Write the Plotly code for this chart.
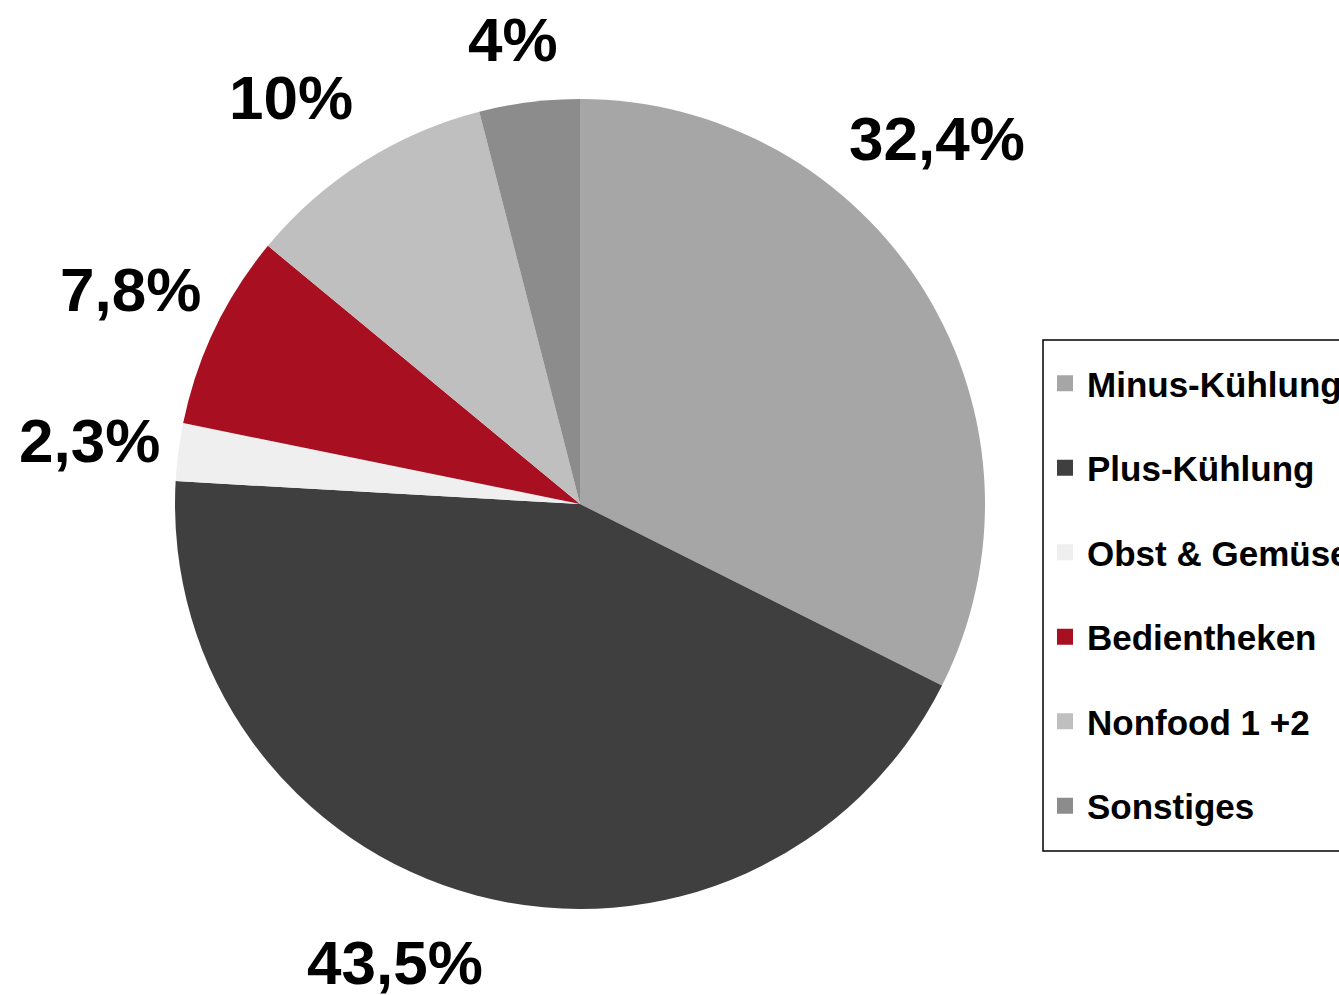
import math
import plotly.graph_objects as go

categories = ["Minus-Kühlung", "Plus-Kühlung", "Obst & Gemüse", "Bedientheken", "Nonfood 1 +2", "Sonstiges"]
values = [32.4, 43.5, 2.3, 7.8, 10.0, 4.0]
value_labels = ["32,4%", "43,5%", "2,3%", "7,8%", "10%", "4%"]
colors = ["#a6a6a6", "#3f3f3f", "#efefef", "#a80f21", "#bfbfbf", "#8c8c8c"]

W, H = 1339, 995
FONT = "Liberation Sans, Arial, sans-serif"

# pie geometry in pixels
CX, CY, R = 580, 504, 405

# label placement style: radius factor and angular nudge (degrees) per label
label_radius = [1.26, 1.22, 1.22, 1.23, 1.23, 1.16]
label_nudge = [-14, 7, 0, 0, -3, -1]

# legend box (pixels)
LEG_L, LEG_T, LEG_B = 1043, 340, 851

fig = go.Figure()
fig.add_trace(go.Pie(
    labels=categories,
    values=values,
    textinfo="none",
    sort=False,
    direction="clockwise",
    rotation=0,
    marker=dict(colors=colors, line=dict(width=0)),
    domain=dict(x=[(CX - R) / W, (CX + R) / W], y=[(H - (CY + R)) / H, (H - (CY - R)) / H]),
    showlegend=False,
    hoverinfo="label+percent",
))

# value labels outside the slices, positioned from the slice mid-angles
total = sum(values)
cum = 0.0
for i, (v, lab) in enumerate(zip(values, value_labels)):
    mid = (cum + v / 2) / total * 360 + label_nudge[i]
    cum += v
    a = math.radians(mid)
    px = CX + label_radius[i] * R * math.sin(a)
    py = CY - label_radius[i] * R * math.cos(a)
    fig.add_annotation(
        x=px / W, y=1 - py / H, xref="paper", yref="paper",
        text=lab, showarrow=False, xanchor="center", yanchor="middle",
        font=dict(family=FONT, size=62, color="black", weight="bold"),
    )

# legend entries (one per category) so that they can be spaced like the reference
for cat, col in zip(categories, colors):
    fig.add_trace(go.Scatter(
        x=[None], y=[None], mode="markers", name=cat,
        legendgroup=cat,
        marker=dict(symbol="square", size=22, color=col, line=dict(width=0)),
        showlegend=True,
    ))

# legend frame
fig.add_shape(
    type="rect", xref="paper", yref="paper",
    x0=LEG_L / W, x1=(LEG_L + 420) / W, y0=1 - LEG_B / H, y1=1 - LEG_T / H,
    line=dict(color="black", width=1.5), fillcolor="rgba(0,0,0,0)", layer="below",
)

fig.update_layout(
    width=W, height=H,
    margin=dict(l=0, r=0, t=0, b=0, autoexpand=False),
    paper_bgcolor="white", plot_bgcolor="white",
    xaxis=dict(visible=False), yaxis=dict(visible=False),
    font=dict(family=FONT, color="black"),
    legend=dict(
        x=LEG_L / W, y=1 - (LEG_T + 14) / H, xanchor="left", yanchor="top",
        borderwidth=0, bgcolor="rgba(0,0,0,0)",
        font=dict(family=FONT, size=35, color="black", weight="bold"),
        tracegroupgap=36,
        traceorder="grouped",
        itemwidth=34,
    ),
)

fig.write_html(
    "out.html",
    config={"displayModeBar": False},
    post_script="document.body.style.margin='0';",
)
